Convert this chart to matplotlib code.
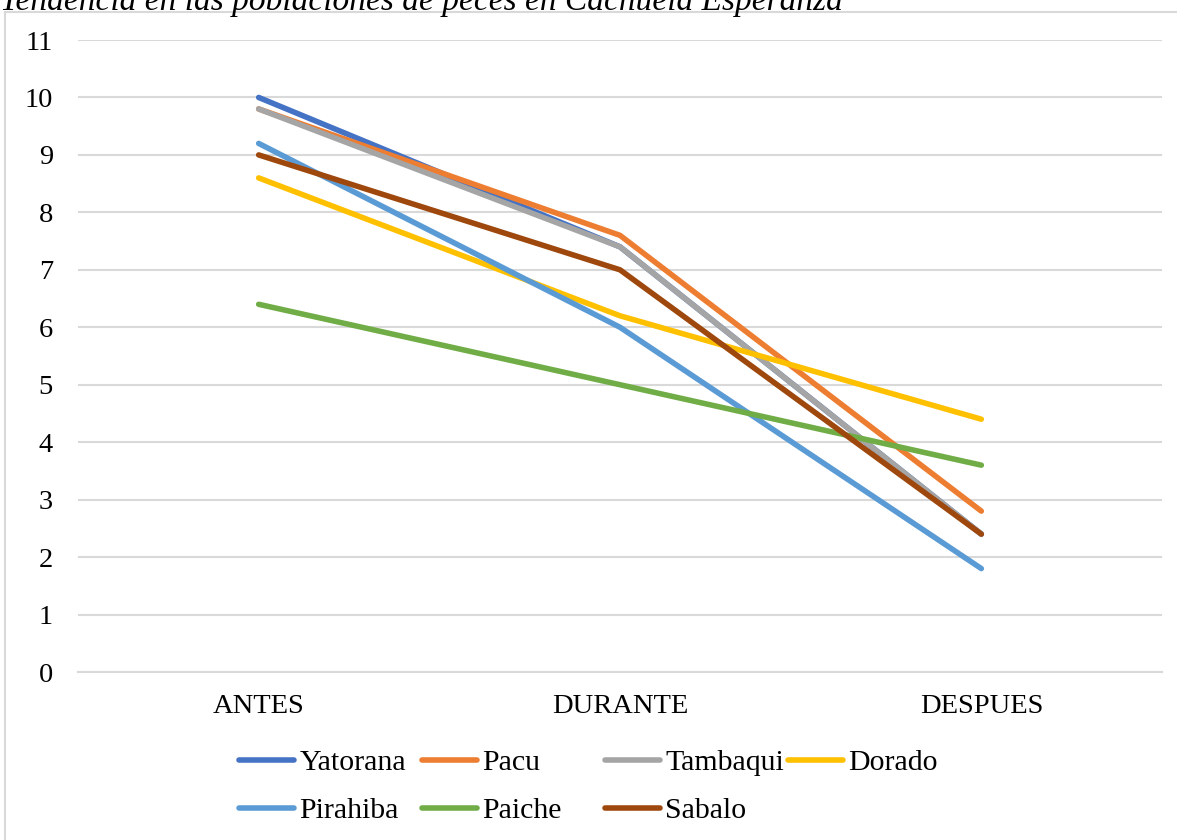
import matplotlib.pyplot as plt
from matplotlib.lines import Line2D

plt.rcParams['font.family'] = ['Liberation Serif', 'DejaVu Serif']

categories = ["ANTES", "DURANTE", "DESPUES"]
yatorana = [10.0, 7.4, 2.4]
pacu = [9.8, 7.6, 2.8]
tambaqui = [9.8, 7.4, 2.4]
dorado = [8.6, 6.2, 4.4]
pirahiba = [9.2, 6.0, 1.8]
paiche = [6.4, 5.0, 3.6]
sabalo = [9.0, 7.0, 2.4]

names = ["Yatorana", "Pacu", "Tambaqui", "Dorado", "Pirahiba", "Paiche", "Sabalo"]
values = [yatorana, pacu, tambaqui, dorado, pirahiba, paiche, sabalo]
colors = ["#4472C4", "#ED7D31", "#A5A5A5", "#FFC000", "#5B9BD5", "#70AD47", "#9E480E"]

W, H = 1177, 840
fig = plt.figure(figsize=(W / 100, H / 100), dpi=100)
ax = fig.add_axes([78 / W, 1 - 672 / H, (1162 - 78) / W, (672 - 40) / H])

x = list(range(len(categories)))
lines = []
for name, vals, col in zip(names, values, colors):
    ln, = ax.plot(x, vals, color=col, lw=4.0, solid_capstyle='round',
                  solid_joinstyle='round', label=name, zorder=3)
    lines.append(ln)

ax.set_ylim(0, 11)
ax.set_xlim(-0.5, 2.5)
ax.set_yticks(range(0, 12))
ax.set_xticks(x)
ax.set_xticklabels(categories)
ax.grid(axis='y', color='#d9d9d9', lw=1.5)
ax.set_axisbelow(True)
for s in ['top', 'right', 'left']:
    ax.spines[s].set_visible(False)
ax.spines['bottom'].set_color('#d9d9d9')
ax.spines['bottom'].set_linewidth(1.5)
ax.tick_params(axis='both', length=0, labelsize=20.5, colors='black')
ax.tick_params(axis='y', pad=18)
ax.tick_params(axis='x', pad=16)

# outer chart frame (left and top edges are visible)
fig.add_artist(Line2D([5 / W, 5 / W], [0, 1 - 12 / H], color='#d9d9d9', lw=1.5))
fig.add_artist(Line2D([5 / W, 1], [1 - 12 / H, 1 - 12 / H], color='#d9d9d9', lw=1.5))

fig.text(0.0, 1 - 10 / H, "Tendencia en las poblaciones de peces en Cachuela Esperanza",
         fontsize=24, style='italic', ha='left', va='baseline')

# legend: 4 equal-width columns, 2 rows (Excel style)
col_x = [239, 422, 605, 788]
row_y = [763, 811]
for i, ln in enumerate(lines):
    r, c = divmod(i, 4)
    fig.legend(handles=[ln], loc='center left',
               bbox_to_anchor=(col_x[c] / W, 1 - row_y[r] / H),
               frameon=False, fontsize=21.5, handlelength=1.85,
               handletextpad=0.17, borderpad=0, borderaxespad=0)

fig.savefig("out.png", dpi=100)
